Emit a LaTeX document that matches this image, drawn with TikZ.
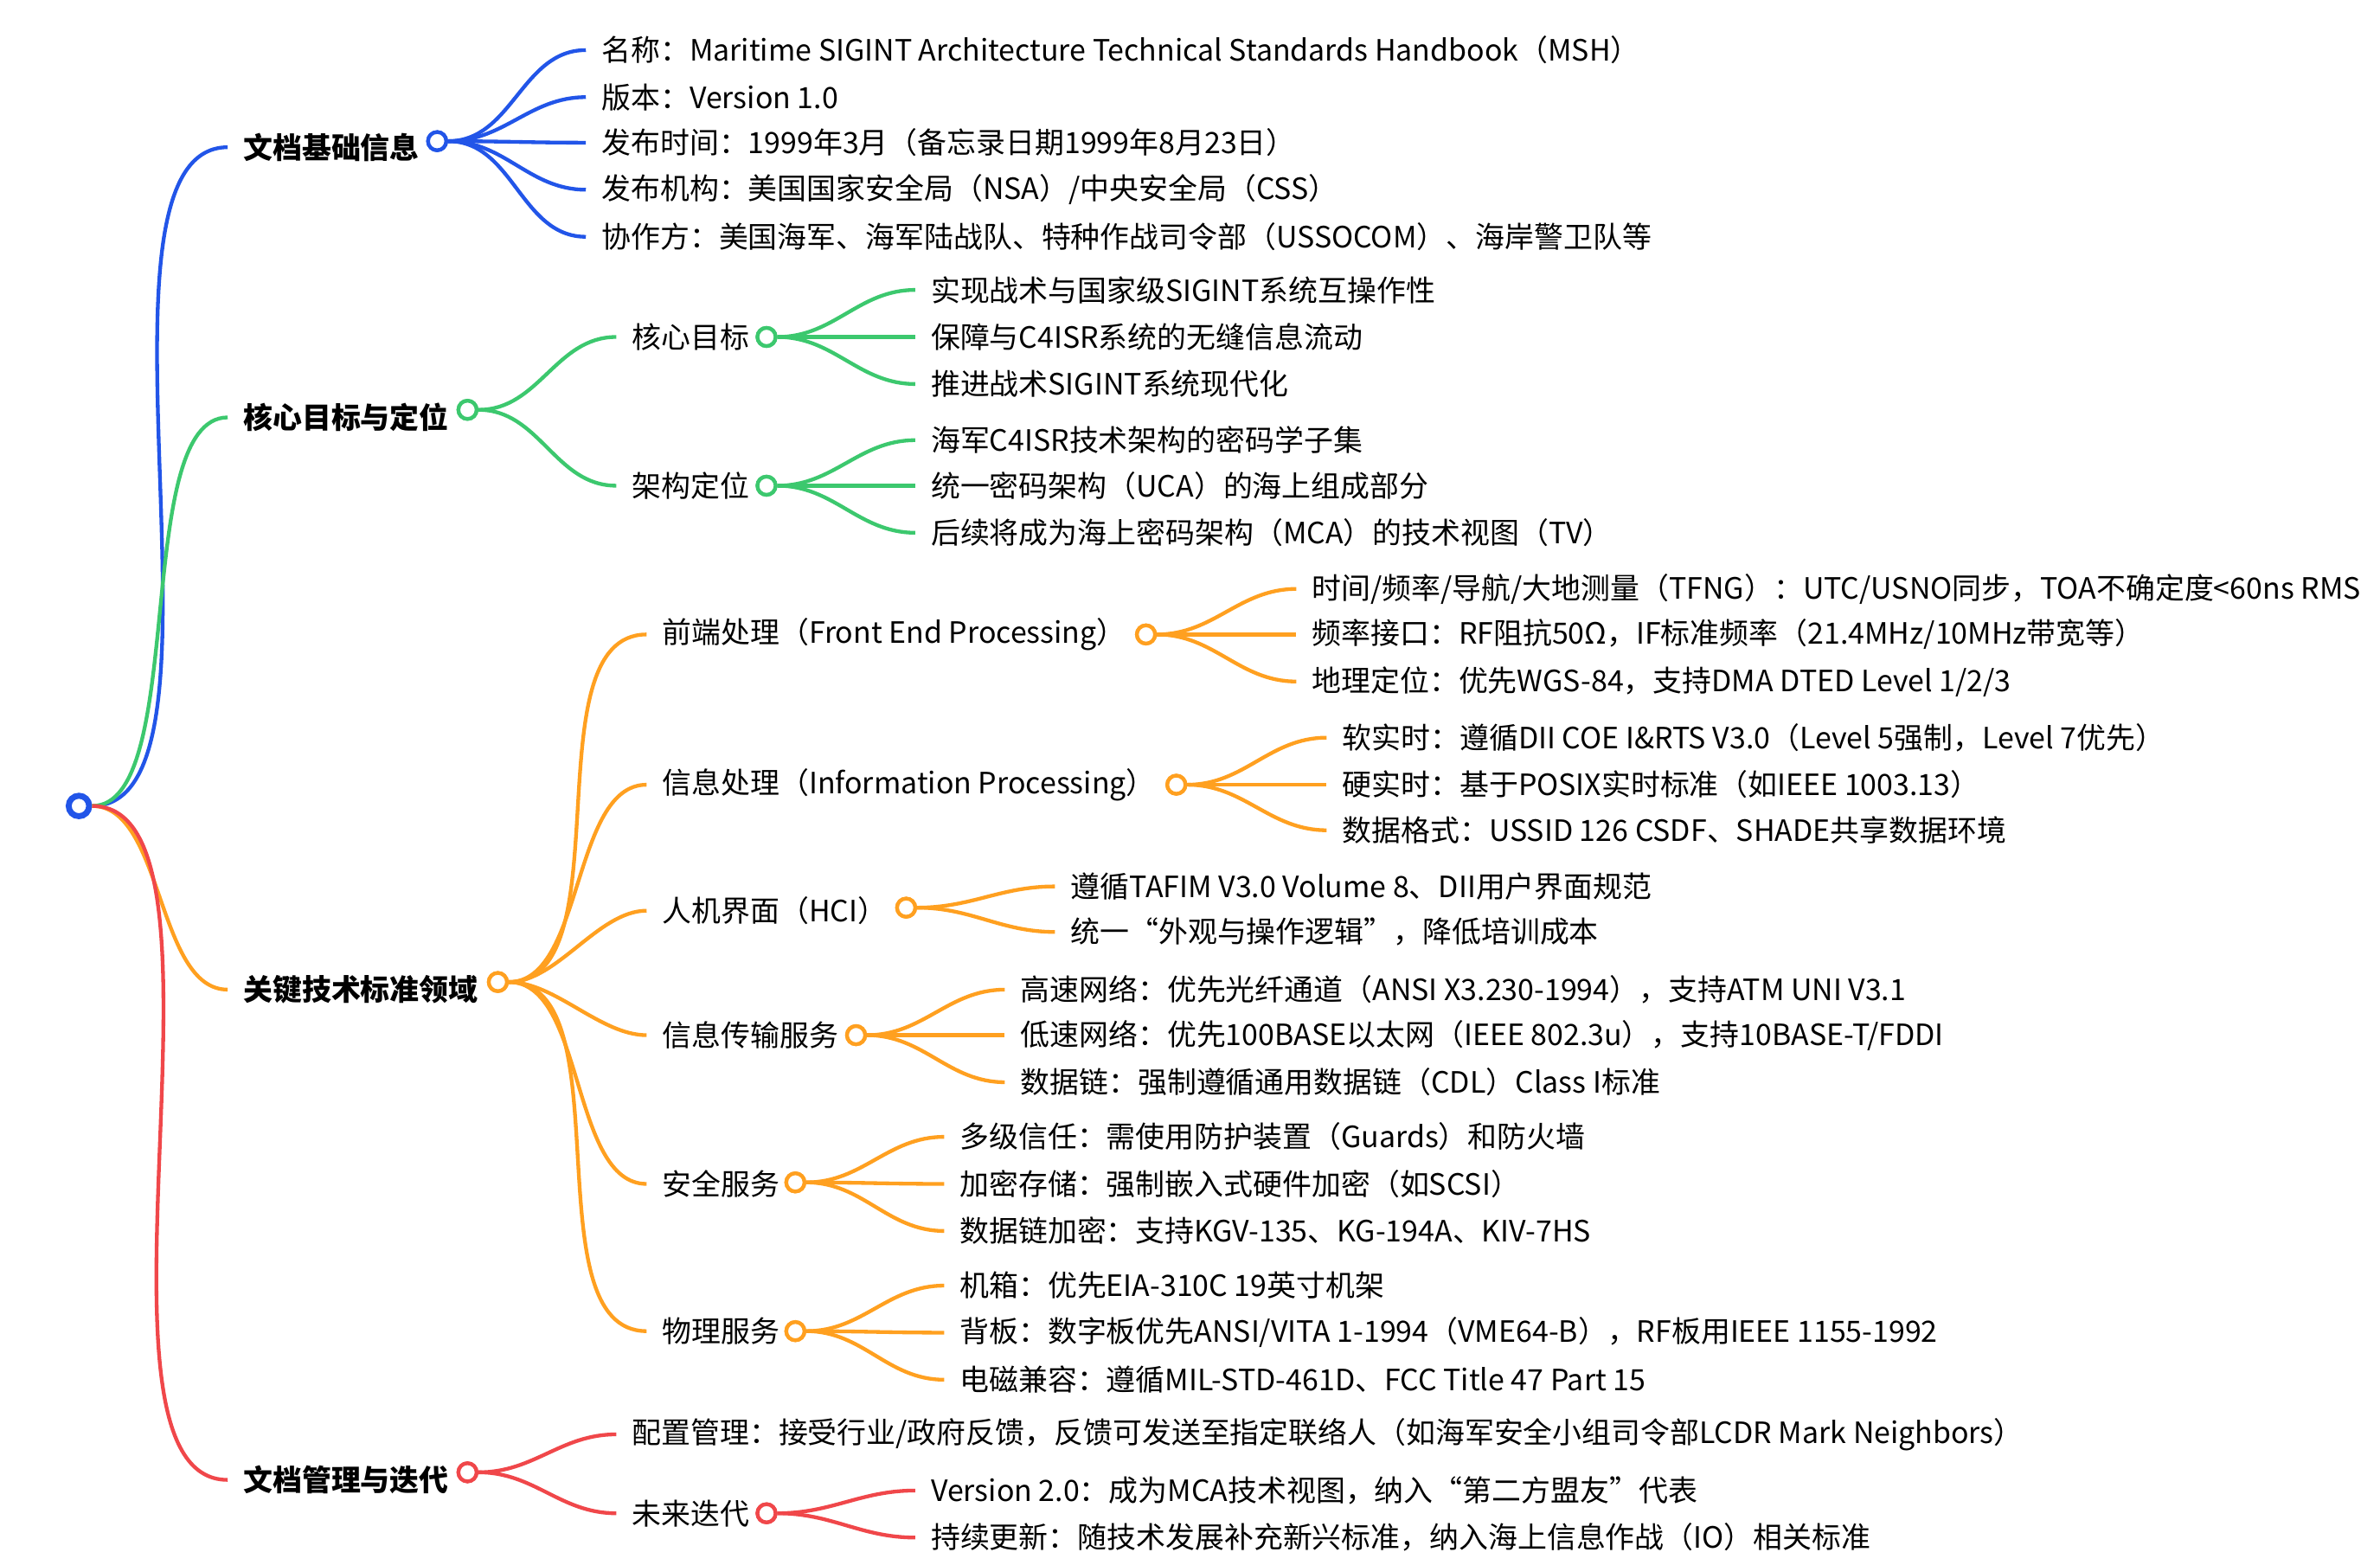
\documentclass[tikz,border=0pt]{standalone}
\usepackage{fontspec}
\setmainfont{Noto Sans CJK SC}
\usetikzlibrary{positioning}
\definecolor{cblue}{HTML}{2255E8}
\definecolor{cgreen}{HTML}{3CC86E}
\definecolor{corange}{HTML}{FFA020}
\definecolor{cred}{HTML}{F0474A}
\tikzset{
  link/.style={line width=1.4pt, out=0, in=180}, % branch curve
  knob/.style={circle, draw, fill=white, line width=1.4pt, minimum size=0.24cm, inner sep=0pt},
  lab/.style={anchor=west, inner xsep=0.2cm, inner ysep=0pt, font=\fontsize{11}{13}\selectfont},
  top/.style={lab, font=\fontsize{11}{13}\selectfont\bfseries},
}
\begin{document}
\begin{tikzpicture}[x=0.02cm, y=-0.02cm]
  \useasboundingbox (0,0) rectangle (1568,1031);
  \fill[white] (0,0) rectangle (1568,1031);

  % level one
  \node[top] (basic) at (150,97) {文档基础信息};
  \node[top] (goal) at (150,275) {核心目标与定位};
  \node[top] (tech) at (150,652) {关键技术标准领域};
  \node[top] (manage) at (150,975) {文档管理与迭代};
  \node[knob, draw=cblue] (kbasic) at (288,93) {};
  \node[knob, draw=cgreen] (kgoal) at (308,270) {};
  \node[knob, draw=corange] (ktech) at (328,647) {};
  \node[knob, draw=cred] (kmanage) at (308,970) {};

  % document info
  \node[lab] (b1) at (386,33) {名称：Maritime SIGINT Architecture Technical Standards Handbook（MSH）};
  \node[lab] (b2) at (386,64) {版本：Version 1.0};
  \node[lab] (b3) at (386,94) {发布时间：1999年3月（备忘录日期1999年8月23日）};
  \node[lab] (b4) at (386,125) {发布机构：美国国家安全局（NSA）/中央安全局（CSS）};
  \node[lab] (b5) at (386,156) {协作方：美国海军、海军陆战队、特种作战司令部（USSOCOM）、海岸警卫队等};

  % goals
  \node[lab] (g1) at (406,222) {核心目标};
  \node[lab] (g2) at (406,320) {架构定位};
  \node[knob, draw=cgreen] (kg1) at (505,222) {};
  \node[knob, draw=cgreen] (kg2) at (505,320) {};
  \node[lab] (g11) at (603,191) {实现战术与国家级SIGINT系统互操作性};
  \node[lab] (g12) at (603,222) {保障与C4ISR系统的无缝信息流动};
  \node[lab] (g13) at (603,253) {推进战术SIGINT系统现代化};
  \node[lab] (g21) at (603,290) {海军C4ISR技术架构的密码学子集};
  \node[lab] (g22) at (603,320) {统一密码架构（UCA）的海上组成部分};
  \node[lab] (g23) at (603,351) {后续将成为海上密码架构（MCA）的技术视图（TV）};

  % technical areas
  \node[lab] (t1) at (426,418) {前端处理（Front End Processing）};
  \node[lab] (t2) at (426,517) {信息处理（Information Processing）};
  \node[lab] (t3) at (426,600) {人机界面（HCI）};
  \node[lab] (t4) at (426,682) {信息传输服务};
  \node[lab] (t5) at (426,780) {安全服务};
  \node[lab] (t6) at (426,877) {物理服务};
  \node[knob, draw=corange] (kt1) at (755,418) {};
  \node[knob, draw=corange] (kt2) at (775,517) {};
  \node[knob, draw=corange] (kt3) at (597,598) {};
  \node[knob, draw=corange] (kt4) at (564,682) {};
  \node[knob, draw=corange] (kt5) at (524,779) {};
  \node[knob, draw=corange] (kt6) at (524,877) {};
  \node[lab] (t11) at (854,388) {时间/频率/导航/大地测量（TFNG）：UTC/USNO同步，TOA不确定度<60ns RMS};
  \node[lab] (t12) at (854,418) {频率接口：RF阻抗50Ω，IF标准频率（21.4MHz/10MHz带宽等）};
  \node[lab] (t13) at (854,449) {地理定位：优先WGS-84，支持DMA DTED Level 1/2/3};
  \node[lab] (t21) at (874,486) {软实时：遵循DII COE I\&RTS V3.0（Level 5强制，Level 7优先）};
  \node[lab] (t22) at (874,517) {硬实时：基于POSIX实时标准（如IEEE 1003.13）};
  \node[lab] (t23) at (874,547) {数据格式：USSID 126 CSDF、SHADE共享数据环境};
  \node[lab] (t31) at (695,584) {遵循TAFIM V3.0 Volume 8、DII用户界面规范};
  \node[lab] (t32) at (695,614) {统一“外观与操作逻辑”，降低培训成本};
  \node[lab] (t41) at (662,652) {高速网络：优先光纤通道（ANSI X3.230-1994），支持ATM UNI V3.1};
  \node[lab] (t42) at (662,682) {低速网络：优先100BASE以太网（IEEE 802.3u），支持10BASE-T/FDDI};
  \node[lab] (t43) at (662,713) {数据链：强制遵循通用数据链（CDL）Class I标准};
  \node[lab] (t51) at (622,749) {多级信任：需使用防护装置（Guards）和防火墙};
  \node[lab] (t52) at (622,780) {加密存储：强制嵌入式硬件加密（如SCSI）};
  \node[lab] (t53) at (622,811) {数据链加密：支持KGV-135、KG-194A、KIV-7HS};
  \node[lab] (t61) at (622,847) {机箱：优先EIA-310C 19英寸机架};
  \node[lab] (t62) at (622,878) {背板：数字板优先ANSI/VITA 1-1994（VME64-B），RF板用IEEE 1155-1992};
  \node[lab] (t63) at (622,909) {电磁兼容：遵循MIL-STD-461D、FCC Title 47 Part 15};

  % management
  \node[lab] (m1) at (406,945) {配置管理：接受行业/政府反馈，反馈可发送至指定联络人（如海军安全小组司令部LCDR Mark Neighbors）};
  \node[lab] (m2) at (406,997) {未来迭代};
  \node[knob, draw=cred] (km2) at (505,997) {};
  \node[lab] (m21) at (603,982) {Version 2.0：成为MCA技术视图，纳入“第二方盟友”代表};
  \node[lab] (m22) at (603,1013) {持续更新：随技术发展补充新兴标准，纳入海上信息作战（IO）相关标准};

  % root
  \node[knob, draw=cblue, minimum size=0.3cm] (root) at (52,531) {};

  % connectors
  \draw[link, cblue, looseness=0.6] (root) to (basic.west);
  \draw[link, cgreen, looseness=0.6] (root) to (goal.west);
  \draw[link, corange, looseness=0.8] (root) to (tech.west);
  \draw[link, cred, looseness=0.6] (root) to (manage.west);
  \foreach \n in {b1,b2,b3,b4,b5} \draw[link, cblue] (kbasic) to (\n.west);
  \foreach \n in {g1,g2} \draw[link, cgreen] (kgoal) to (\n.west);
  \foreach \n in {g11,g12,g13} \draw[link, cgreen] (kg1) to (\n.west);
  \foreach \n in {g21,g22,g23} \draw[link, cgreen] (kg2) to (\n.west);
  \foreach \n in {t1,t2,t3,t4,t5,t6} \draw[link, corange, looseness=0.8] (ktech) to (\n.west);
  \foreach \n in {t11,t12,t13} \draw[link, corange] (kt1) to (\n.west);
  \foreach \n in {t21,t22,t23} \draw[link, corange] (kt2) to (\n.west);
  \foreach \n in {t31,t32} \draw[link, corange] (kt3) to (\n.west);
  \foreach \n in {t41,t42,t43} \draw[link, corange] (kt4) to (\n.west);
  \foreach \n in {t51,t52,t53} \draw[link, corange] (kt5) to (\n.west);
  \foreach \n in {t61,t62,t63} \draw[link, corange] (kt6) to (\n.west);
  \foreach \n in {m1,m2} \draw[link, cred] (kmanage) to (\n.west);
  \foreach \n in {m21,m22} \draw[link, cred] (km2) to (\n.west);
  % redraw knobs over lines
  \foreach \k/\c in {root/cblue,kbasic/cblue,kgoal/cgreen,kg1/cgreen,kg2/cgreen,ktech/corange,kt1/corange,kt2/corange,kt3/corange,kt4/corange,kt5/corange,kt6/corange,kmanage/cred,km2/cred}
    \draw[\c, fill=white, line width=1.4pt] (\k) circle (0.12cm);
\end{tikzpicture}
\end{document}
